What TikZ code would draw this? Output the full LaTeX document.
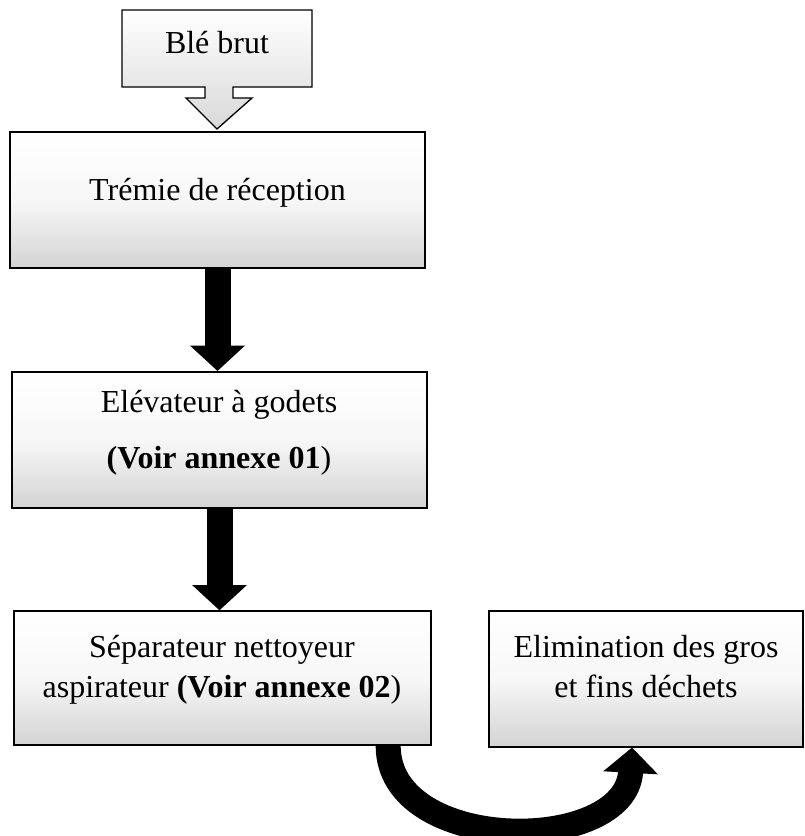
\documentclass[tikz,border=0pt]{standalone}
\usepackage{fontspec}
\setmainfont{Liberation Serif}
\usetikzlibrary{calc,arrows.meta}

\tikzset{
  etape/.style={draw=black, line width=1.5pt, top color=white, bottom color=black!17, middle color=black!3, inner sep=0pt},
  txt/.style={font=\fontsize{24}{30}\selectfont, align=center, inner sep=0pt, anchor=base},
  fleche/.style={line width=19.5pt, -{Triangle[width=40pt, length=19pt]}},
}

\begin{document}
\begin{tikzpicture}[x=0.75pt, y=-0.75pt]
			%%%%% START %%%%%
			\useasboundingbox (0, 0) rectangle (804, 836);
			
			% Ble brut (callout)
			\shade[draw=black, line width=1pt, top color=white, bottom color=black!15]
				(122, 10) -- (312, 10) -- (312, 87) -- (233, 87) -- (233, 98) -- (252, 98)
				-- (217, 129) -- (186, 98) -- (205, 98) -- (205, 87) -- (122, 87) -- cycle;
			\node[txt] (ble) at (217, 53) {Blé brut};
			
			% boites
			\node[etape, minimum width=311pt, minimum height=102pt] (trem) at (217.5, 200) {};
			\node[txt] (tremtxt) at (217.5, 200) {Trémie de réception};
			
			\node[etape, minimum width=311pt, minimum height=102pt] (elev) at (219.5, 440) {};
			\node[txt] (elevtxt1) at (219, 412) {Elévateur à godets};
			\node[txt] (elevtxt2) at (219, 468) {\textbf{(Voir annexe 01})};
			
			\node[etape, minimum width=313pt, minimum height=100pt] (sep) at (222.5, 678) {};
			\node[txt] (septxt) at (222, 697) {Séparateur nettoyeur\\aspirateur \textbf{(Voir annexe 02})};
			
			\node[etape, minimum width=235pt, minimum height=102pt] (elim) at (646, 678.5) {};
			\node[txt] (elimtxt) at (646, 697) {Elimination des gros\\et fins déchets};
			
			% fleches
			\draw[fleche] (trem.south) -- (trem.south |- elev.north);
			\draw[fleche] (elev.south) -- (elev.south |- sep.north);
			
			\coordinate (depart) at ($(sep.south east)+(-44, 0)$);
			\coordinate (arrivee) at ($(elim.south)+(-14, 0)$);
			\draw[line width=18.75pt, -{Triangle[width=40pt, length=19pt]}]
				(depart) .. controls (388, 855) and (626, 855) .. (arrivee);
			
			%%%%% END %%%%%
\end{tikzpicture}
\end{document}
